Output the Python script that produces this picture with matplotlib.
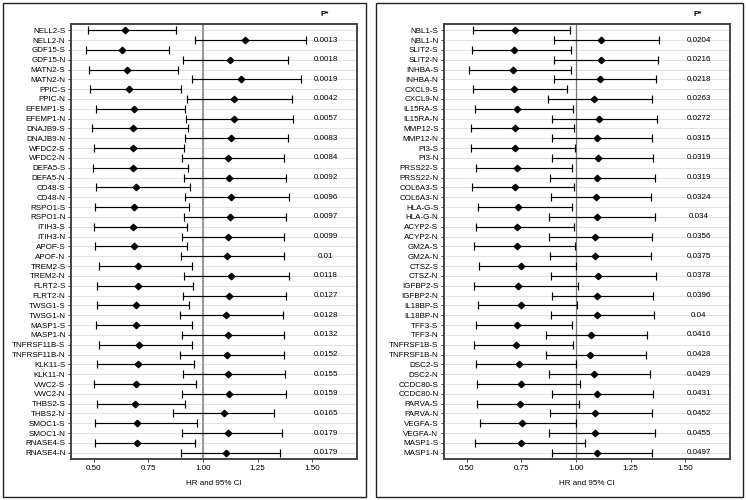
import matplotlib.pyplot as plt
from matplotlib.patches import Rectangle

plt.rcParams['font.family'] = ['Liberation Sans', 'DejaVu Sans']

# left panel
left_proteins = ["NELL2", "GDF15", "MATN2", "PPIC", "EFEMP1", "DNAJB9", "WFDC2", "DEFA5",
                 "CD48", "RSPO1", "ITIH3", "APOF", "TREM2", "FLRT2", "TWSG1", "MASP1",
                 "TNFRSF11B", "KLK11", "VWC2", "THBS2", "SMOC1", "RNASE4"]
left_s_hr = [0.645, 0.628, 0.651, 0.659, 0.683, 0.678, 0.678, 0.681, 0.694, 0.686, 0.681,
             0.683, 0.704, 0.701, 0.694, 0.692, 0.707, 0.704, 0.695, 0.690, 0.700, 0.700]
left_s_lo = [0.474, 0.466, 0.479, 0.482, 0.509, 0.494, 0.502, 0.497, 0.512, 0.505, 0.500,
             0.506, 0.523, 0.517, 0.515, 0.509, 0.526, 0.517, 0.500, 0.515, 0.505, 0.505]
left_s_hi = [0.877, 0.846, 0.884, 0.899, 0.918, 0.933, 0.915, 0.930, 0.939, 0.934, 0.927,
             0.927, 0.951, 0.953, 0.937, 0.948, 0.948, 0.959, 0.967, 0.918, 0.970, 0.965]
left_n_hr = [1.192, 1.123, 1.172, 1.143, 1.143, 1.130, 1.113, 1.119, 1.130, 1.122, 1.113,
             1.111, 1.128, 1.120, 1.107, 1.114, 1.108, 1.116, 1.120, 1.096, 1.114, 1.107]
left_n_lo = [0.965, 0.910, 0.951, 0.927, 0.922, 0.919, 0.902, 0.912, 0.916, 0.912, 0.902,
             0.901, 0.915, 0.910, 0.895, 0.905, 0.895, 0.907, 0.905, 0.861, 0.905, 0.901]
left_n_hi = [1.470, 1.390, 1.448, 1.405, 1.413, 1.390, 1.372, 1.378, 1.393, 1.380, 1.372,
             1.370, 1.395, 1.380, 1.367, 1.372, 1.372, 1.375, 1.377, 1.326, 1.361, 1.352]
left_p = ["0.0013", "0.0018", "0.0019", "0.0042", "0.0057", "0.0083", "0.0084", "0.0092",
          "0.0096", "0.0097", "0.0099", "0.01", "0.0118", "0.0127", "0.0128", "0.0132",
          "0.0152", "0.0155", "0.0159", "0.0165", "0.0179", "0.0179"]

# right panel
right_proteins = ["NBL1", "SLIT2", "INHBA", "CXCL9", "IL15RA", "MMP12", "PI3", "PRSS22",
                  "COL6A3", "HLA-G", "ACYP2", "GM2A", "CTSZ", "IGFBP2", "IL18BP", "TFF3",
                  "TNFRSF1B", "DSC2", "CCDC80", "PARVA", "VEGFA", "MASP1"]
right_s_hr = [0.719, 0.717, 0.710, 0.714, 0.728, 0.719, 0.720, 0.729, 0.719, 0.736, 0.729,
              0.729, 0.746, 0.734, 0.746, 0.728, 0.725, 0.737, 0.746, 0.743, 0.754, 0.746]
right_s_lo = [0.530, 0.523, 0.512, 0.530, 0.540, 0.521, 0.520, 0.543, 0.523, 0.552, 0.541,
              0.535, 0.555, 0.533, 0.550, 0.541, 0.533, 0.544, 0.549, 0.546, 0.559, 0.536]
right_s_hi = [0.971, 0.977, 0.977, 0.960, 0.985, 0.991, 0.997, 0.983, 0.989, 0.983, 0.989,
              0.997, 0.998, 1.011, 1.006, 0.983, 0.986, 1.000, 1.018, 1.015, 1.000, 1.043]
right_n_hr = [1.112, 1.112, 1.108, 1.084, 1.105, 1.094, 1.099, 1.096, 1.091, 1.094, 1.088,
              1.088, 1.099, 1.097, 1.097, 1.068, 1.065, 1.084, 1.097, 1.088, 1.087, 1.097]
right_n_lo = [0.897, 0.900, 0.900, 0.871, 0.892, 0.889, 0.892, 0.881, 0.886, 0.874, 0.877,
              0.880, 0.884, 0.891, 0.884, 0.862, 0.862, 0.874, 0.891, 0.883, 0.874, 0.891]
right_n_hi = [1.378, 1.374, 1.365, 1.348, 1.368, 1.345, 1.350, 1.359, 1.343, 1.362, 1.348,
              1.343, 1.365, 1.351, 1.357, 1.325, 1.319, 1.336, 1.354, 1.347, 1.359, 1.348]
right_p = ["0.0204", "0.0216", "0.0218", "0.0263", "0.0272", "0.0315", "0.0319", "0.0319",
           "0.0324", "0.034", "0.0356", "0.0375", "0.0378", "0.0396", "0.04", "0.0416",
           "0.0428", "0.0429", "0.0431", "0.0452", "0.0455", "0.0497"]

xticks = [0.50, 0.75, 1.00, 1.25, 1.50]


def draw_panel(ax, proteins, s_hr, s_lo, s_hi, n_hr, n_lo, n_hi, pvals, refcolor, reflw):
    labels, hr, lo, hi = [], [], [], []
    for i, name in enumerate(proteins):
        labels += [name + "-S", name + "-N"]
        hr += [s_hr[i], n_hr[i]]
        lo += [s_lo[i], n_lo[i]]
        hi += [s_hi[i], n_hi[i]]
    ypos = list(range(len(labels)))
    for y in ypos:
        ax.axhline(y, color="#e2e2e2", lw=0.8, zorder=0)
    ax.axvline(1.0, color=refcolor, lw=reflw, zorder=1)
    err = [[h - l for h, l in zip(hr, lo)], [u - h for h, u in zip(hr, hi)]]
    ax.errorbar(hr, ypos, xerr=err, fmt="D", color="black", ms=3.3, lw=0.85,
                capsize=2.6, capthick=0.85, zorder=3)
    for i, p in enumerate(pvals):
        ax.text(1.56, 2 * i + 1, p, ha="center", va="center", fontsize=5.8)
    ax.text(1.555, -1.55, "P*", ha="center", va="center", fontsize=5.8, fontweight="bold")
    ax.set_yticks(ypos)
    ax.set_yticklabels(labels, fontsize=5.8)
    ax.set_ylim(len(labels) - 0.37, -0.63)
    ax.set_xlim(0.396, 1.704)
    ax.set_xticks(xticks)
    ax.set_xticklabels(["%.2f" % t for t in xticks], fontsize=5.8)
    ax.set_xlabel("HR and 95% CI", fontsize=5.8, labelpad=6)
    ax.tick_params(length=2.5, width=0.7, color="#444444", pad=1.5)
    for s in ax.spines.values():
        s.set_color("#444444")
        s.set_linewidth(1.4)


fig = plt.figure(figsize=(7.46, 5.0), dpi=100)
ax1 = fig.add_axes([71 / 746, 41 / 500, 286 / 746, 435 / 500])
ax2 = fig.add_axes([444 / 746, 41 / 500, 286 / 746, 435 / 500])

draw_panel(ax1, left_proteins, left_s_hr, left_s_lo, left_s_hi,
           left_n_hr, left_n_lo, left_n_hi, left_p, "#999999", 1.5)
draw_panel(ax2, right_proteins, right_s_hr, right_s_lo, right_s_hi,
           right_n_hr, right_n_lo, right_n_hi, right_p, "#777777", 0.9)

fig.patches.append(Rectangle((3 / 746, 3 / 500), 363 / 746, 494 / 500, transform=fig.transFigure,
                             fill=False, edgecolor="#222222", lw=1.0))
fig.patches.append(Rectangle((376 / 746, 3 / 500), 367 / 746, 494 / 500, transform=fig.transFigure,
                             fill=False, edgecolor="#222222", lw=1.0))

fig.savefig("out.png", dpi=100)
